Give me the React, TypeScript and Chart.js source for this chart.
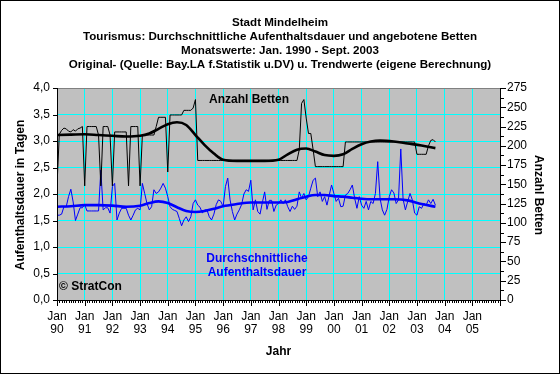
import React, { useEffect, useRef } from "react";
import { Chart, registerables } from "chart.js";

Chart.register(...registerables);

const FONT = "'Liberation Sans', Arial, sans-serif";

const titleLines = [
  "Stadt Mindelheim",
  "Tourismus: Durchschnittliche Aufenthaltsdauer und angebotene Betten",
  "Monatswerte: Jan. 1990 - Sept. 2003",
  "Original- (Quelle: Bay.LA f.Statistik u.DV) u. Trendwerte (eigene Berechnung)",
];

const yearLabels = ["90", "91", "92", "93", "94", "95", "96", "97", "98", "99", "00", "01", "02", "03", "04", "05"];

// Anzahl Betten, monthly Jan 1990 - Sept 2003 (right axis)
const bettenMonthly = [
  148, 215, 220, 223, 222, 219, 218, 221, 219, 222, 223, 225,
  148, 225, 225, 225, 225, 225, 214, 148, 225, 225, 225, 214,
  148, 218, 218, 218, 218, 218, 218, 148, 225, 225, 225, 225,
  148, 214, 214, 214, 214, 214, 214, 225, 237, 237, 237, 237,
  166, 240, 240, 240, 240, 240, 240, 246, 246, 246, 246, 249,
  260, 181, 181, 181, 181, 181, 181, 181, 181, 181, 181, 181,
  181, 181, 181, 181, 181, 181, 181, 181, 181, 181, 181, 181,
  181, 181, 181, 181, 181, 181, 181, 181, 181, 181, 181, 181,
  181, 181, 181, 181, 181, 181, 181, 181, 181, 195, 255, 260,
  236, 216, 216, 195, 173, 173, 173, 173, 173, 173, 173, 173,
  173, 173, 173, 173, 173, 205, 205, 205, 205, 205, 205, 205,
  205, 205, 205, 205, 205, 205, 205, 205, 205, 205, 205, 205,
  205, 205, 205, 205, 205, 205, 205, 205, 205, 205, 205, 205,
  189, 189, 189, 189, 189, 200, 207, 208, 205,
];

// Durchschnittliche Aufenthaltsdauer, monthly (left axis)
const dauerMonthly = [
  1.60, 1.60, 1.62, 1.76, 1.76, 1.95, 2.09, 1.85, 1.50, 1.62, 1.74, 1.74,
  1.80, 1.68, 1.68, 1.68, 1.68, 1.68, 1.68, 2.45, 1.70, 1.74, 1.74, 1.64,
  2.14, 2.20, 1.51, 1.64, 1.73, 1.73, 1.73, 1.60, 1.51, 1.60, 1.70, 1.73,
  1.70, 2.20, 2.01, 1.82, 1.70, 1.76, 2.08, 2.01, 2.04, 2.11, 2.20, 2.11,
  1.95, 1.76, 1.71, 1.69, 1.67, 1.54, 1.40, 1.51, 1.57, 1.48, 1.57, 1.82,
  1.89, 1.79, 1.75, 1.64, 1.70, 1.70, 1.57, 1.51, 1.62, 1.80, 1.89, 1.86,
  1.76, 2.14, 2.30, 1.89, 1.67, 1.51, 1.62, 1.70, 1.80, 2.00, 2.08, 2.05,
  2.26, 1.70, 1.89, 1.67, 1.62, 1.84, 2.04, 1.71, 1.88, 1.88, 1.67, 1.79,
  1.82, 1.89, 1.82, 1.89, 1.76, 1.67, 1.77, 1.71, 1.77, 2.04, 1.92, 2.01,
  1.89, 1.95, 2.11, 2.26, 2.30, 1.95, 2.04, 1.86, 1.95, 1.79, 1.98, 2.17,
  2.01, 1.86, 1.92, 1.76, 1.77, 1.98, 2.01, 2.08, 2.17, 1.92, 1.73, 1.95,
  1.79, 1.73, 1.86, 1.70, 1.86, 1.82, 2.01, 2.61, 1.92, 1.70, 1.60, 1.71,
  1.95, 2.08, 2.02, 1.82, 1.89, 2.85, 1.90, 1.70, 1.86, 2.01, 1.89, 1.64,
  1.60, 1.76, 1.73, 1.82, 1.79, 1.89, 1.82, 1.90, 1.79,
];

// Trend values read at these month indices (0 = Jan 1990)
const trendMonths = [0, 6, 12, 18, 24, 30, 36, 40, 44, 48, 52, 56, 60, 64, 68, 72, 78, 84, 90, 96, 100, 104, 108, 112, 116, 120, 124, 128, 132, 136, 140, 146, 152, 158, 164];
const bettenTrend = [214, 214.5, 215, 214, 213, 212, 213, 216, 222, 228, 230.5, 227, 214, 201, 190, 182, 180.5, 180.5, 180.5, 182, 189, 195, 196.5, 192.5, 188, 187, 189, 196, 202, 205.5, 206.7, 205.5, 203, 200.5, 197];
const dauerTrend = [1.76, 1.77, 1.79, 1.79, 1.78, 1.76, 1.78, 1.83, 1.86, 1.83, 1.75, 1.68, 1.66, 1.68, 1.72, 1.77, 1.81, 1.84, 1.84, 1.84, 1.85, 1.90, 1.95, 1.98, 1.98, 1.96, 1.95, 1.93, 1.91, 1.90, 1.90, 1.90, 1.88, 1.81, 1.76];

const decorPlugin = {
  id: "decor",
  beforeDraw(chart: any) {
    const { ctx, chartArea: a, width, height } = chart;
    ctx.save();
    ctx.fillStyle = "#ffffff";
    ctx.fillRect(0, 0, width, height);
    ctx.fillStyle = "#C0C0C0";
    ctx.fillRect(a.left, a.top, a.right - a.left, a.bottom - a.top);
    ctx.restore();
  },
  afterDraw(chart: any) {
    const { ctx, chartArea: a, width, height, scales } = chart;
    const xs = scales.x, ys = scales.y, y2s = scales.y2;
    const L = Math.round(a.left), R = Math.round(a.right), T = Math.round(a.top), B = Math.round(a.bottom);
    ctx.save();
    ctx.lineWidth = 1;
    const seg = (x1: number, y1: number, x2: number, y2: number, c: string) => {
      ctx.strokeStyle = c;
      ctx.beginPath();
      ctx.moveTo(x1, y1);
      ctx.lineTo(x2, y2);
      ctx.stroke();
    };
    // plot border / axes
    seg(L, T + 0.5, R + 1, T + 0.5, "#808080");
    seg(L + 0.5, T, L + 0.5, B + 1, "#000");
    seg(R + 0.5, T, R + 0.5, B + 1, "#000");
    seg(L, B + 0.5, R + 1, B + 0.5, "#000");
    // left ticks
    for (let v = 0; v <= 4.0001; v += 0.5) {
      const py = Math.round(ys.getPixelForValue(v)) + 0.5;
      seg(L - 4, py, L, py, "#000");
    }
    // right ticks
    for (let v = 0; v <= 275.001; v += 12.5) {
      const py = Math.round(y2s.getPixelForValue(v)) + 0.5;
      const major = Math.abs(v / 25 - Math.round(v / 25)) < 0.01;
      seg(R + 1, py, R + (major ? 6 : 4), py, "#000");
    }
    // bottom ticks
    for (let m = 0; m <= 192; m++) {
      const px = Math.round(xs.getPixelForValue(m)) + 0.5;
      seg(px, B + 1, px, B + (m % 12 === 0 ? 6 : 3), "#000");
    }
    // outer border
    ctx.strokeStyle = "#000";
    ctx.strokeRect(0.5, 0.5, width - 1, height - 1);

    // titles
    ctx.fillStyle = "#000";
    ctx.font = `bold 11.6px ${FONT}`;
    ctx.textAlign = "center";
    ctx.textBaseline = "middle";
    titleLines.forEach((t, i) => ctx.fillText(t, width / 2, 22.5 + i * 14.2));

    // axis titles
    ctx.font = `bold 12px ${FONT}`;
    ctx.fillText("Jahr", (L + R) / 2, 352);
    ctx.save();
    ctx.translate(21, (T + B) / 2 + 1);
    ctx.rotate(-Math.PI / 2);
    ctx.fillText("Aufenthaltsdauer in Tagen", 0, 0);
    ctx.restore();
    ctx.save();
    ctx.translate(538.5, (T + B) / 2 + 1);
    ctx.rotate(Math.PI / 2);
    ctx.fillText("Anzahl Betten", 0, 0);
    ctx.restore();

    // in-plot labels
    ctx.fillText("Anzahl Betten", 249, 100);
    ctx.fillStyle = "#0000FF";
    ctx.fillText("Durchschnittliche", 257, 259);
    ctx.fillText("Aufenthaltsdauer", 257, 273);
    ctx.fillStyle = "#000";
    ctx.textAlign = "left";
    ctx.fillText("\u00A9 StratCon", 59, 287);
    ctx.restore();
  },
};

export default function App() {
  const ref = useRef<HTMLCanvasElement | null>(null);

  useEffect(() => {
    if (!ref.current) return;
    const tickFont = { family: FONT, size: 12, lineHeight: 1.12 };
    const chart = new Chart(ref.current, {
      type: "line",
      data: {
        datasets: [
          {
            label: "Trend Betten",
            data: trendMonths.map((m, i) => ({ x: m, y: bettenTrend[i] })),
            yAxisID: "y2",
            borderColor: "#000000",
            borderWidth: 2.6,
            pointRadius: 0,
            cubicInterpolationMode: "monotone",
            fill: false,
          },
          {
            label: "Trend Aufenthaltsdauer",
            data: trendMonths.map((m, i) => ({ x: m, y: dauerTrend[i] })),
            yAxisID: "y",
            borderColor: "#0000FF",
            borderWidth: 2.6,
            pointRadius: 0,
            cubicInterpolationMode: "monotone",
            fill: false,
          },
          {
            label: "Anzahl Betten",
            data: bettenMonthly.map((v, i) => ({ x: i, y: v })),
            yAxisID: "y2",
            borderColor: "#000000",
            borderWidth: 1,
            pointRadius: 0,
            tension: 0,
            fill: false,
          },
          {
            label: "Durchschnittliche Aufenthaltsdauer",
            data: dauerMonthly.map((v, i) => ({ x: i, y: v })),
            yAxisID: "y",
            borderColor: "#0000FF",
            borderWidth: 1,
            pointRadius: 0,
            tension: 0,
            fill: false,
          },
        ],
      },
      options: {
        responsive: false,
        animation: false,
        devicePixelRatio: 1,
        layout: { padding: { top: 88, left: 0, right: 0, bottom: 0 } },
        plugins: { legend: { display: false }, tooltip: { enabled: false }, title: { display: false } },
        scales: {
          x: {
            type: "linear",
            position: "bottom",
            min: 0,
            max: 192,
            afterFit: (s: any) => { s.height = 74; },
            ticks: {
              stepSize: 12,
              autoSkip: false,
              maxRotation: 0,
              minRotation: 0,
              padding: 10,
              color: "#000",
              font: tickFont,
              callback: (v: any) => {
                const i = Math.round(Number(v) / 12);
                return i < yearLabels.length ? ["Jan", yearLabels[i]] : "";
              },
            },
            grid: { color: "#00FFFF", lineWidth: 1, drawTicks: false },
            border: { display: false },
          },
          y: {
            position: "left",
            min: 0,
            max: 4,
            afterFit: (s: any) => { s.width = 57; },
            ticks: {
              stepSize: 0.5,
              padding: 7,
              color: "#000",
              font: tickFont,
              callback: (v: any) => Number(v).toFixed(1).replace(".", ","),
            },
            grid: { color: "#00FFFF", lineWidth: 1, drawTicks: false },
            border: { display: false },
          },
          y2: {
            position: "right",
            min: 0,
            max: 275,
            afterFit: (s: any) => { s.width = 60; },
            ticks: { stepSize: 25, padding: 7, color: "#000", font: tickFont },
            grid: { display: false, drawTicks: false },
            border: { display: false },
          },
        },
      },
      plugins: [decorPlugin],
    } as any);
    return () => chart.destroy();
  }, []);

  return (
    <div style={{ position: "fixed", left: 0, top: 0, width: 560, height: 374, background: "#fff" }}>
      <canvas ref={ref} width={560} height={374} style={{ display: "block" }} />
    </div>
  );
}
